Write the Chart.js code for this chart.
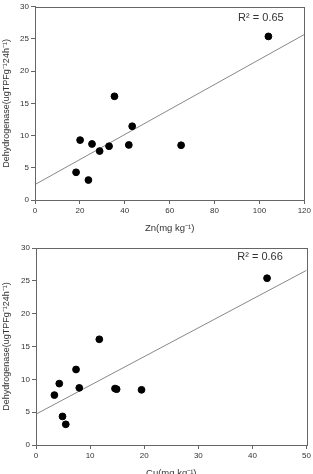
<!DOCTYPE html>
<html>
<head>
<meta charset="UTF-8">
<script src="https://cdn.jsdelivr.net/npm/chart.js"></script>
<style>
    body { margin: 0; background: #fff; }
    .grafico { position: absolute; left: 0; width: 313px; height: 237px; }
</style>
</head>
<body>
<div class="grafico" style="top:0"><canvas id="chartZn" width="313" height="237"></canvas></div>
<div class="grafico" style="top:237px"><canvas id="chartCu" width="313" height="237"></canvas></div>

<script>
// top: Zn vs dehydrogenase
const znX = [18.3, 20.1, 23.8, 25.4, 28.8, 33.0, 35.4, 41.8, 43.3, 65.1, 104.0];
const znY = [4.3, 9.3, 3.1, 8.7, 7.6, 8.35, 16.1, 8.55, 11.45, 8.5, 25.4];
const znFitX = [0, 120];
const znFitY = [2.4, 25.7];
const znR2 = 'R² = 0.65';
const znR2Pos = [90.5, 28.2];

// bottom: Cu vs dehydrogenase
const cuX = [3.4, 4.3, 4.9, 5.5, 7.4, 8.0, 11.7, 14.6, 14.9, 19.5, 42.7];
const cuY = [7.6, 9.35, 4.35, 3.15, 11.5, 8.7, 16.1, 8.6, 8.5, 8.4, 25.4];
const cuFitX = [0, 50];
const cuFitY = [4.7, 26.6];
const cuR2 = 'R² = 0.66';
const cuR2Pos = [37.2, 28.7];

const yTicks = [0, 5, 10, 15, 20, 25, 30];

function pontos(xs, ys) {
    return xs.map((x, i) => ({ x: x, y: ys[i] }));
}

const moldura = {
    id: 'moldura',
    afterDraw(chart) {
        const a = chart.chartArea;
        const ctx = chart.ctx;
        ctx.save();
        ctx.strokeStyle = '#666';
        ctx.lineWidth = 1;
        ctx.strokeRect(Math.round(a.left) + 0.5, Math.round(a.top) + 0.5,
            Math.round(a.right - a.left), Math.round(a.bottom - a.top));
        // R2 label
        const o = chart.options.plugins.moldura;
        ctx.fillStyle = '#333';
        ctx.font = '11px "Liberation Sans", Arial, sans-serif';
        ctx.textBaseline = 'middle';
        ctx.fillText(o.texto, chart.scales.x.getPixelForValue(o.pos[0]), chart.scales.y.getPixelForValue(o.pos[1]));
        ctx.restore();
    }
};

function criarGrafico(id, xs, ys, fx, fy, xMax, xStep, xTitulo, r2, r2pos, pad, xAltura, yLargura, tituloPad) {
    const fonteTick = { family: '"Liberation Sans", Arial, sans-serif', size: 8 };
    const fonteTitulo = { family: '"Liberation Sans", Arial, sans-serif', size: 9.5 };
    return new Chart(document.getElementById(id), {
        type: 'scatter',
        data: {
            datasets: [{
                data: pontos(xs, ys),
                backgroundColor: '#000',
                borderColor: '#000',
                pointRadius: 3.4,
                order: 1
            }, {
                data: pontos(fx, fy),
                showLine: true,
                borderColor: '#888',
                borderWidth: 1,
                pointRadius: 0,
                order: 2
            }]
        },
        options: {
            responsive: false,
            animation: false,
            layout: { padding: pad },
            plugins: {
                legend: { display: false },
                tooltip: { enabled: false },
                moldura: { texto: r2, pos: r2pos }
            },
            scales: {
                x: {
                    min: 0, max: xMax,
                    afterFit: s => { s.height = xAltura; },
                    ticks: { stepSize: xStep, color: '#333', font: fonteTick, padding: 2, maxRotation: 0 },
                    grid: { drawOnChartArea: false, tickLength: 4, color: '#666' },
                    border: { color: '#666' },
                    title: { display: true, text: xTitulo, color: '#333', font: fonteTitulo, padding: { top: 0, bottom: tituloPad } }
                },
                y: {
                    min: 0, max: 30,
                    afterFit: s => { s.width = yLargura; },
                    afterBuildTicks: s => { s.ticks = yTicks.map(v => ({ value: v })); },
                    ticks: { color: '#333', font: fonteTick, padding: 2 },
                    grid: { drawOnChartArea: false, tickLength: 4, color: '#666' },
                    border: { color: '#666' },
                    title: { display: true, text: 'Dehydrogenase(ugTPFg⁻¹24h⁻¹)', color: '#333', font: { family: fonteTitulo.family, size: 9 }, padding: { top: 1.5, bottom: 0 } }
                }
            }
        },
        plugins: [moldura]
    });
}

criarGrafico('chartZn', znX, znY, znFitX, znFitY, 120, 20, 'Zn(mg kg⁻¹)', znR2, znR2Pos,
    { top: 4, right: 5, left: 0, bottom: 0 }, 37, 35, 2.5);
criarGrafico('chartCu', cuX, cuY, cuFitX, cuFitY, 50, 10, 'Cu(mg kg⁻¹)', cuR2, cuR2Pos,
    { top: 11, right: 4, left: 0, bottom: 0 }, 29, 36, -5);
</script>
</body>
</html>
